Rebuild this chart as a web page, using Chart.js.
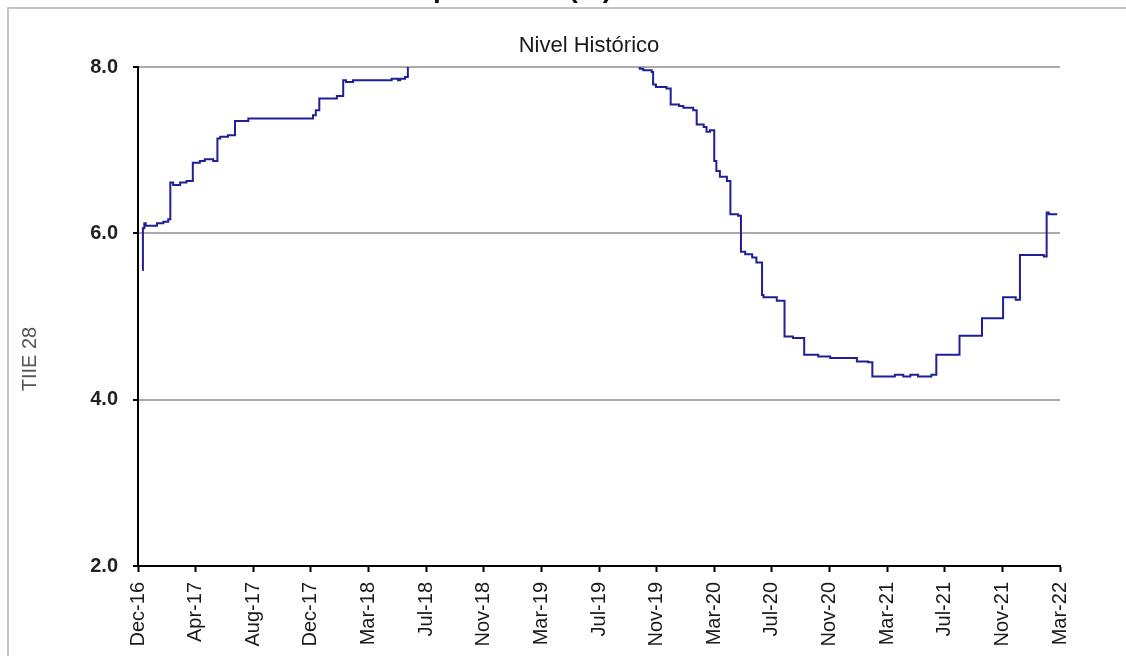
<!DOCTYPE html>
<html>
<head>
<meta charset="utf-8">
<script src="https://cdn.jsdelivr.net/npm/chart.js@4/dist/chart.umd.min.js"></script>
<style>
  html, body { margin: 0; padding: 0; background: #ffffff; }
  #wrap { width: 1126px; height: 656px; position: relative; overflow: hidden; }
</style>
</head>
<body>
<div id="wrap"><canvas id="tiieChart" width="1126" height="656"></canvas></div>
<script>
// TIIE 28 - nivel histórico
const tickLabels = ['Dec-16', 'Apr-17', 'Aug-17', 'Dec-17', 'Mar-18', 'Jul-18', 'Nov-18', 'Mar-19',
    'Jul-19', 'Nov-19', 'Mar-20', 'Jul-20', 'Nov-20', 'Mar-21', 'Jul-21', 'Nov-21', 'Mar-22'];
const daysPerTick = 82;

// día hábil (índice) donde empieza cada nivel
const dayIndex = [6, 7, 9, 11, 27, 36, 43, 46, 50, 60, 69, 78, 88, 95, 107, 113, 117, 128, 138, 157,
    249, 253, 258, 283, 292, 296, 306, 361, 370, 373, 380, 384, 487, 515, 672, 686, 707, 714, 719, 731,
    733, 737, 752, 758, 770, 776, 790, 795, 805, 809, 814, 820, 823, 828, 838, 843, 854, 858, 864, 874,
    880, 888, 890, 909, 920, 932, 948, 968, 985, 1023, 1039, 1045, 1077, 1089, 1099, 1110, 1129, 1136, 1169, 1201,
    1231, 1249, 1255, 1289, 1293, 1296, 1308];
const tiie = [5.56, 6.06, 6.12, 6.09, 6.12, 6.14, 6.17, 6.61, 6.58, 6.61, 6.63, 6.85, 6.87, 6.89, 6.87, 7.14, 7.16, 7.18, 7.35, 7.38,
    7.42, 7.48, 7.62, 7.65, 7.84, 7.82, 7.84, 7.86, 7.84, 7.86, 7.88, 8.10, 8.35, 8.60, 8.47, 8.27, 8.05, 7.98, 7.96, 7.94,
    7.79, 7.76, 7.74, 7.55, 7.53, 7.51, 7.48, 7.31, 7.28, 7.22, 7.24, 6.87, 6.75, 6.68, 6.63, 6.23, 6.21, 5.78, 5.75, 5.71,
    5.65, 5.26, 5.23, 5.19, 4.76, 4.74, 4.54, 4.52, 4.50, 4.46, 4.45, 4.28, 4.30, 4.28, 4.30, 4.28, 4.30, 4.54, 4.77, 4.98,
    5.23, 5.20, 5.74, 5.72, 6.25, 6.23, 6.23];

const FONT = '"Liberation Sans", Arial, Helvetica, sans-serif';

// marco, título, subtítulo y título del eje Y
const decor = {
    id: 'decor',
    beforeDraw(chart) {
        const ctx = chart.ctx;
        ctx.save();
        ctx.strokeStyle = '#c4c4c4';
        ctx.lineWidth = 2;
        ctx.strokeRect(8, 8, 1200, 700);
        ctx.restore();
    },
    afterDraw(chart) {
        const ctx = chart.ctx;
        ctx.save();
        ctx.fillStyle = '#111';
        ctx.font = 'bold 28px ' + FONT;
        ctx.textAlign = 'right';
        ctx.textBaseline = 'alphabetic';
        ctx.fillText('TIIE 28 días promedio (%)', 612, -3);

        ctx.font = '22px ' + FONT;
        ctx.textAlign = 'center';
        ctx.textBaseline = 'middle';
        ctx.fillStyle = '#1a1a1a';
        ctx.fillText('Nivel Histórico', 589, 46);

        ctx.translate(30, 359);
        ctx.rotate(-Math.PI / 2);
        ctx.font = '20px ' + FONT;
        ctx.fillStyle = '#555';
        ctx.fillText('TIIE 28', 0, 0);
        ctx.restore();
    }
};

const ctx = document.getElementById('tiieChart').getContext('2d');
new Chart(ctx, {
    type: 'line',
    data: {
        datasets: [{
            label: 'TIIE 28',
            data: dayIndex.map((d, i) => ({ x: d, y: tiie[i] })),
            borderColor: '#1f1f96',
            borderWidth: 2,
            pointRadius: 0,
            stepped: true,
            fill: false
        }]
    },
    options: {
        responsive: false,
        animation: false,
        layout: { padding: { top: 67, right: 66, left: 0, bottom: 0 } },
        plugins: {
            legend: { display: false },
            tooltip: { enabled: false }
        },
        scales: {
            x: {
                type: 'linear',
                min: 0,
                max: daysPerTick * (tickLabels.length - 1),
                afterBuildTicks: (scale) => {
                    scale.ticks = tickLabels.map((_, i) => ({ value: i * daysPerTick }));
                },
                afterFit: (scale) => { scale.height = 90; },
                grid: {
                    drawOnChartArea: false,
                    tickLength: 6,
                    tickColor: '#000',
                    tickWidth: 2
                },
                border: { color: '#000', width: 2 },
                ticks: {
                    autoSkip: false,
                    maxRotation: 90,
                    minRotation: 90,
                    padding: 10,
                    color: '#1a1a1a',
                    font: { family: FONT, size: 20 },
                    callback: (value, index) => tickLabels[index]
                }
            },
            y: {
                min: 2,
                max: 8,
                afterFit: (scale) => { scale.width = 138; },
                grid: {
                    color: (c) => (c.tick && c.tick.value === 2) ? 'rgba(0,0,0,0)' : '#ababab',
                    lineWidth: 2,
                    tickLength: 5,
                    tickColor: '#000',
                    tickWidth: 2
                },
                border: { color: '#000', width: 2 },
                ticks: {
                    stepSize: 2,
                    padding: 15,
                    color: '#222',
                    font: { family: FONT, size: 20, weight: 'bold' },
                    callback: (value) => value.toFixed(1)
                }
            }
        }
    },
    plugins: [decor]
});
</script>
</body>
</html>
